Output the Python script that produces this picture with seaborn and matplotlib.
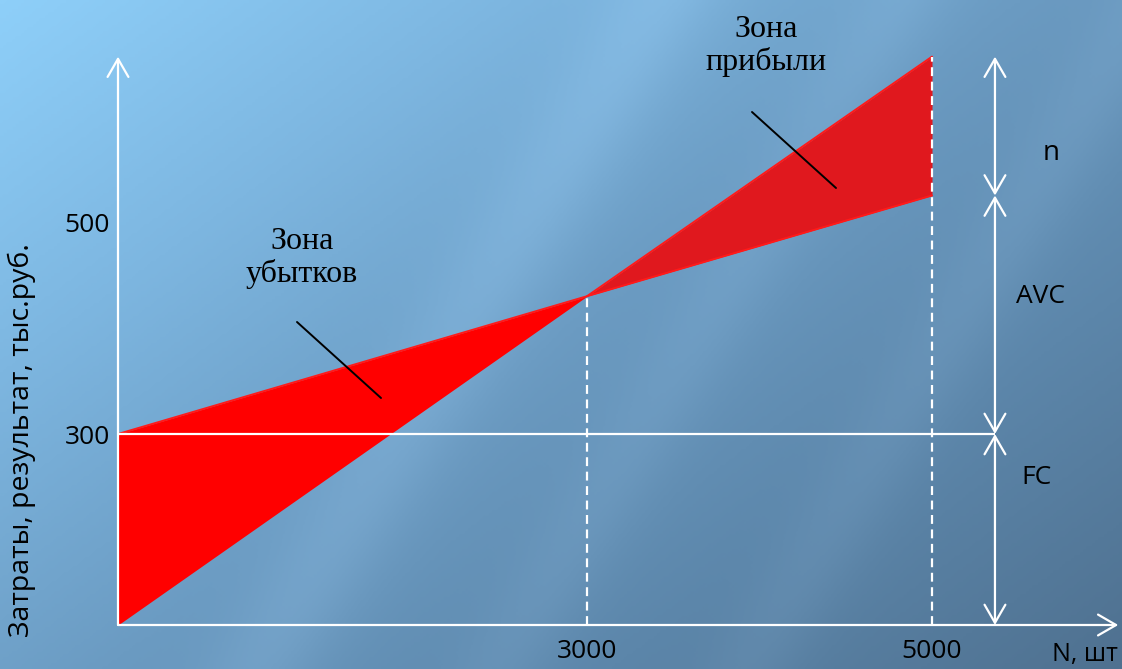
import numpy as np
import pandas as pd
import matplotlib
matplotlib.use("Agg")
import matplotlib.pyplot as plt
import seaborn as sns
from matplotlib.colors import LinearSegmentedColormap

# ---------------- data ----------------
volume = [0, 3000, 5000]            # N, шт
revenue = [0, 430, 656]             # выручка, тыс.руб.
total_cost = [300, 430, 525]        # совокупные затраты (FC + AVC)
fixed_cost = 300                    # FC
x_ticks = [3000, 5000]
x_tick_labels = ["3000", "5000"]
y_ticks = [300, 500]
y_tick_labels = ["300", "500"]
dim_labels = ["n", "AVC", "FC"]

# ---------------- schematic (non-proportional) scale ----------------
X_NODES = [0, 3000, 5000, 7000]
X_PX = [0, 469, 814, 1159]
Y_NODES = [0, 300, 500, 900]
Y_PX = [0, 191, 403, 827]


def fx(v):
    return np.interp(v, X_NODES, X_PX, left=-1e3, right=2e3)


def ix(v):
    return np.interp(v, X_PX, X_NODES, left=-1e4, right=1e5)


def fy(v):
    return np.interp(v, Y_NODES, Y_PX, left=-1e3, right=2e3)


def iy(v):
    return np.interp(v, Y_PX, Y_NODES, left=-1e4, right=1e5)


W, H = 1122, 669
sns.set_theme(style="white")
plt.rcParams["font.family"] = ["Open Sans", "DejaVu Sans"]

fig = plt.figure(figsize=(W / 100, H / 100), dpi=100)

# background gradient with soft diagonal streaks
bg = fig.add_axes([0, 0, 1, 1], zorder=0)
gx, gy = np.meshgrid(np.linspace(0, 1, 374), np.linspace(0, 1, 223))
t = np.clip(0.55 * gx + 0.45 * gy, 0, 1)
u = gx * W + 0.6 * gy * H
streak = (0.045 * np.exp(-((u - 660) / 60.0) ** 2)
          + 0.03 * np.exp(-((u - 900) / 50.0) ** 2)
          + 0.03 * np.exp(-((u - 1150) / 50.0) ** 2))
cmap = LinearSegmentedColormap.from_list(
    "bgc", [(0, "#8ecff9"), (0.25, "#7db6e0"), (0.5, "#6b9bc2"),
            (0.75, "#5c86aa"), (1.0, "#4f7190")])
img = cmap(t)[..., :3]
img = np.clip(img + streak[..., None], 0, 1)
bg.imshow(img, aspect="auto", extent=[0, 1, 0, 1], origin="upper")
bg.set_axis_off()


def P(x, y):
    """figure-pixel (from top-left) -> figure fraction"""
    return x / W, 1 - y / H


ax = fig.add_axes([118 / W, (H - 625) / H, (W - 118) / W, 625 / H], zorder=1)
ax.set_facecolor("none")
ax.set_xscale("function", functions=(fx, ix))
ax.set_yscale("function", functions=(fy, iy))
ax.set_xlim(0, float(ix(W - 118)))
ax.set_ylim(0, float(iy(625)))
for s in ax.spines.values():
    s.set_visible(False)

# zones
ax.fill_between(volume[:2], revenue[:2], total_cost[:2], color="#ff0000", lw=0, zorder=2)
ax.fill_between(volume[1:], total_cost[1:], revenue[1:], color="#e0181e", lw=0, zorder=2)
sns.lineplot(x=volume, y=total_cost, ax=ax, color="#ff1a1a", lw=1.4,
             estimator=None, sort=False, zorder=3)
sns.lineplot(x=volume[1:], y=revenue[1:], ax=ax, color="#ff1a1a", lw=1.4,
             estimator=None, sort=False, zorder=3)

x_dim = 5365
x_end = 6080
y_top = max(revenue)

# FC line
ax.hlines(fixed_cost, 0, x_dim, color="white", lw=1.6, zorder=4)
# dashed verticals
ax.vlines(volume[1], 0, revenue[1], color="white", lw=1.6, linestyles=(0, (4, 2.5)), zorder=4)
ax.vlines(volume[2], 0, revenue[2], color="white", lw=1.6, linestyles=(0, (4, 2.5)), zorder=4)

ap = dict(color="white", lw=1.6, shrinkA=0, shrinkB=0, mutation_scale=10)
one = "->,head_length=1.3,head_width=0.75"
two = "<->,head_length=1.3,head_width=0.75"
ax.annotate("", xy=(0, y_top), xytext=(0, 0), annotation_clip=False,
            arrowprops=dict(arrowstyle=one, **ap), zorder=5)
ax.annotate("", xy=(x_end, 0), xytext=(0, 0), annotation_clip=False,
            arrowprops=dict(arrowstyle=one, **ap), zorder=5)
levels = [revenue[2], total_cost[2], fixed_cost, 0]
for a, b in zip(levels[:-1], levels[1:]):
    ax.annotate("", xy=(x_dim, b), xytext=(x_dim, a), annotation_clip=False,
                arrowprops=dict(arrowstyle=two, **ap), zorder=5)

# ticks
ax.set_xticks(x_ticks)
ax.set_xticklabels(x_tick_labels)
ax.set_yticks(y_ticks)
ax.set_yticklabels(y_tick_labels)
ax.minorticks_off()
ax.tick_params(axis="both", length=0, labelsize=19, labelcolor="black")
ax.tick_params(axis="x", pad=10)
ax.tick_params(axis="y", pad=6)
ax.grid(False)

# texts
fig.text(*P(22, 440), "Затраты, результат, тыс.руб.", rotation=90,
         ha="center", va="center", fontsize=20.5, color="black")
fig.text(*P(1118, 655), "N, шт", ha="right", va="center", fontsize=18, color="black")
fig.text(*P(1051, 153), dim_labels[0], ha="center", va="center", fontsize=20, color="black")
fig.text(*P(1040, 297), dim_labels[1], ha="center", va="center", fontsize=19, color="black")
fig.text(*P(1036, 478), dim_labels[2], ha="center", va="center", fontsize=19, color="black")

serif = ["Liberation Serif", "DejaVu Serif"]
fig.text(*P(302, 258), "Зона\nубытков", ha="center", va="center", fontsize=23,
         family=serif, color="black", linespacing=1.15)
fig.text(*P(766, 46), "Зона\nприбыли", ha="center", va="center", fontsize=23,
         family=serif, color="black", linespacing=1.15)

# leader lines
for (x1, y1), (x2, y2) in [((297, 322), (381, 398)), ((752, 112), (836, 188))]:
    fig.add_artist(plt.Line2D([x1 / W, x2 / W], [1 - y1 / H, 1 - y2 / H],
                              transform=fig.transFigure, color="black", lw=1.4, zorder=6))

fig.savefig("out.png", dpi=100)
